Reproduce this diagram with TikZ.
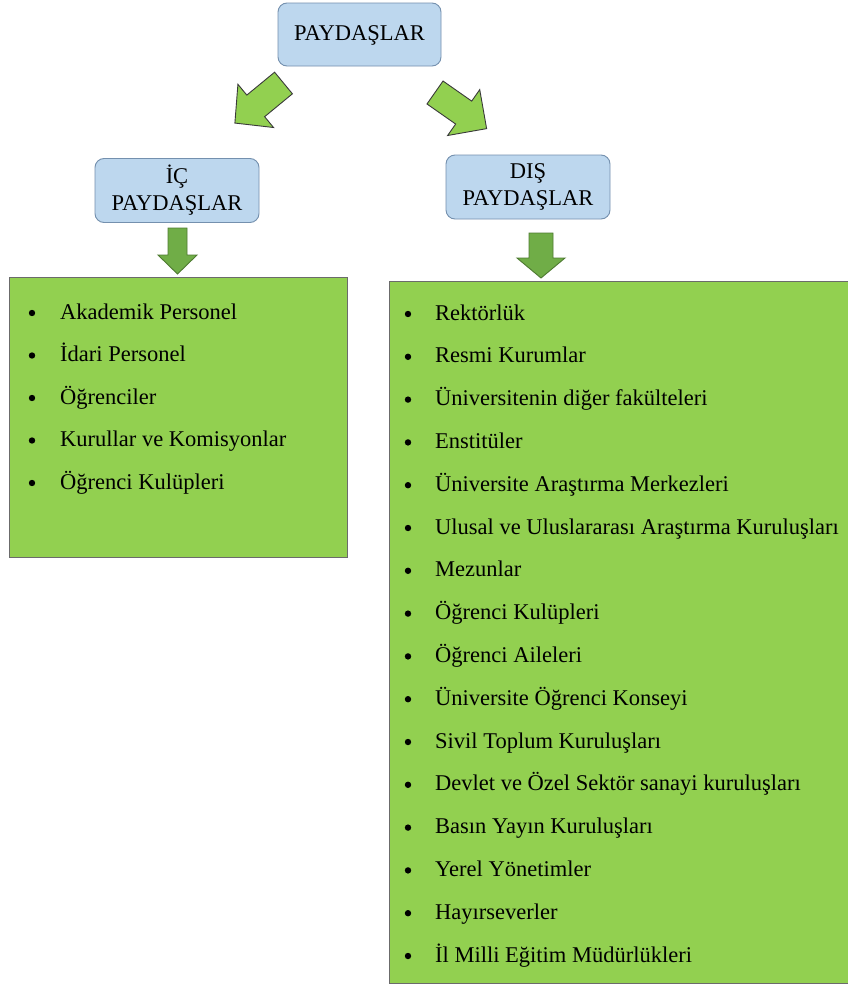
\documentclass[tikz,border=0pt]{standalone}
\usepackage{fontspec}
\setmainfont{Liberation Serif}
\begin{document}
\begin{tikzpicture}[x=1pt,y=-1pt,
  bluebox/.style={draw=bluegray,fill=lightblue,rounded corners=9pt,line width=0.9pt,
    minimum width=163pt,minimum height=63pt,inner sep=0pt,align=center,
    font=\fontsize{22.5}{27}\selectfont},
  greenbox/.style={draw=boxborder,fill=mygreen,line width=1pt,inner sep=0pt,anchor=north west},
  diagarrow/.style={draw=arrowborder,fill=mygreen,line width=0.9pt,line join=miter},
  downarrow/.style={draw=darkborder,fill=darkgreen,line width=0.9pt},
  item/.style={anchor=base west,inner sep=0pt,font=\fontsize{22.5}{27}\selectfont},
  bul/.style={fill=black}
]
\definecolor{lightblue}{HTML}{BDD7EE}
\definecolor{bluegray}{HTML}{7490AE}
\definecolor{mygreen}{HTML}{92D050}
\definecolor{darkgreen}{HTML}{70AD47}
\definecolor{darkborder}{HTML}{4E7A31}
\definecolor{boxborder}{HTML}{6B6B6B}
\definecolor{arrowborder}{HTML}{3A3A3A}
\useasboundingbox (0,0) rectangle (847,985);
\fill[white] (0,0) rectangle (847,985);

% top boxes
\node[bluebox,text depth=3pt] (top) at (359.5,34.5) {PAYDAŞLAR};
\node[bluebox,minimum width=164pt,minimum height=64pt] (ic) at (177,190.5) {İÇ\\PAYDAŞLAR};
\node[bluebox,minimum width=164pt,minimum height=64pt] (dis) at (528,187) {DIŞ\\PAYDAŞLAR};

% diagonal block arrows
\begin{scope}[shift={(283.5,83)},rotate=219.5]
  \draw[diagarrow] (0,-14) -- (36,-14) -- (36,-28) -- (63,0) -- (36,28) -- (36,14) -- (0,14) -- cycle;
\end{scope}
\begin{scope}[shift={(435,92.5)},rotate=-35]
  \draw[diagarrow] (0,-14) -- (35,-14) -- (35,-28) -- (63,0) -- (35,28) -- (35,14) -- (0,14) -- cycle;
\end{scope}

% green boxes
\node[greenbox,minimum width=338pt,minimum height=280pt] (leftbox) at (9,277) {};
\node[greenbox,minimum width=460pt,minimum height=702pt] (rightbox) at (389,281) {};

% down arrows
\draw[downarrow] (168,228) -- (187,228) -- (187,255) -- (197,255) -- (177.5,274) -- (158,255) -- (168,255) -- cycle;
\draw[downarrow] (529,233) -- (553,233) -- (553,258) -- (565,258) -- (541,278) -- (517,258) -- (529,258) -- cycle;

% left list
\foreach \t [count=\i] in {Akademik Personel,İdari Personel,Öğrenciler,Kurullar ve Komisyonlar,Öğrenci Kulüpleri}{
  \pgfmathsetmacro{\yy}{312+42.5*(\i-1)}
  \fill[bul] (32,\yy+1) circle (3.2pt);
  \node[item] (l\i) at (60,\yy+7) {\t};
}
% right list
\foreach \t [count=\i] in {Rektörlük,Resmi Kurumlar,Üniversitenin diğer fakülteleri,Enstitüler,Üniversite Araştırma Merkezleri,Ulusal ve Uluslararası Araştırma Kuruluşları,Mezunlar,Öğrenci Kulüpleri,Öğrenci Aileleri,Üniversite Öğrenci Konseyi,Sivil Toplum Kuruluşları,Devlet ve Özel Sektör sanayi kuruluşları,Basın Yayın Kuruluşları,Yerel Yönetimler,Hayırseverler,İl Milli Eğitim Müdürlükleri}{
  \pgfmathsetmacro{\yy}{313+42.8*(\i-1)}
  \fill[bul] (408,\yy+1) circle (3.2pt);
  \node[item] (r\i) at (435,\yy+7) {\t};
}
\end{tikzpicture}
\end{document}
